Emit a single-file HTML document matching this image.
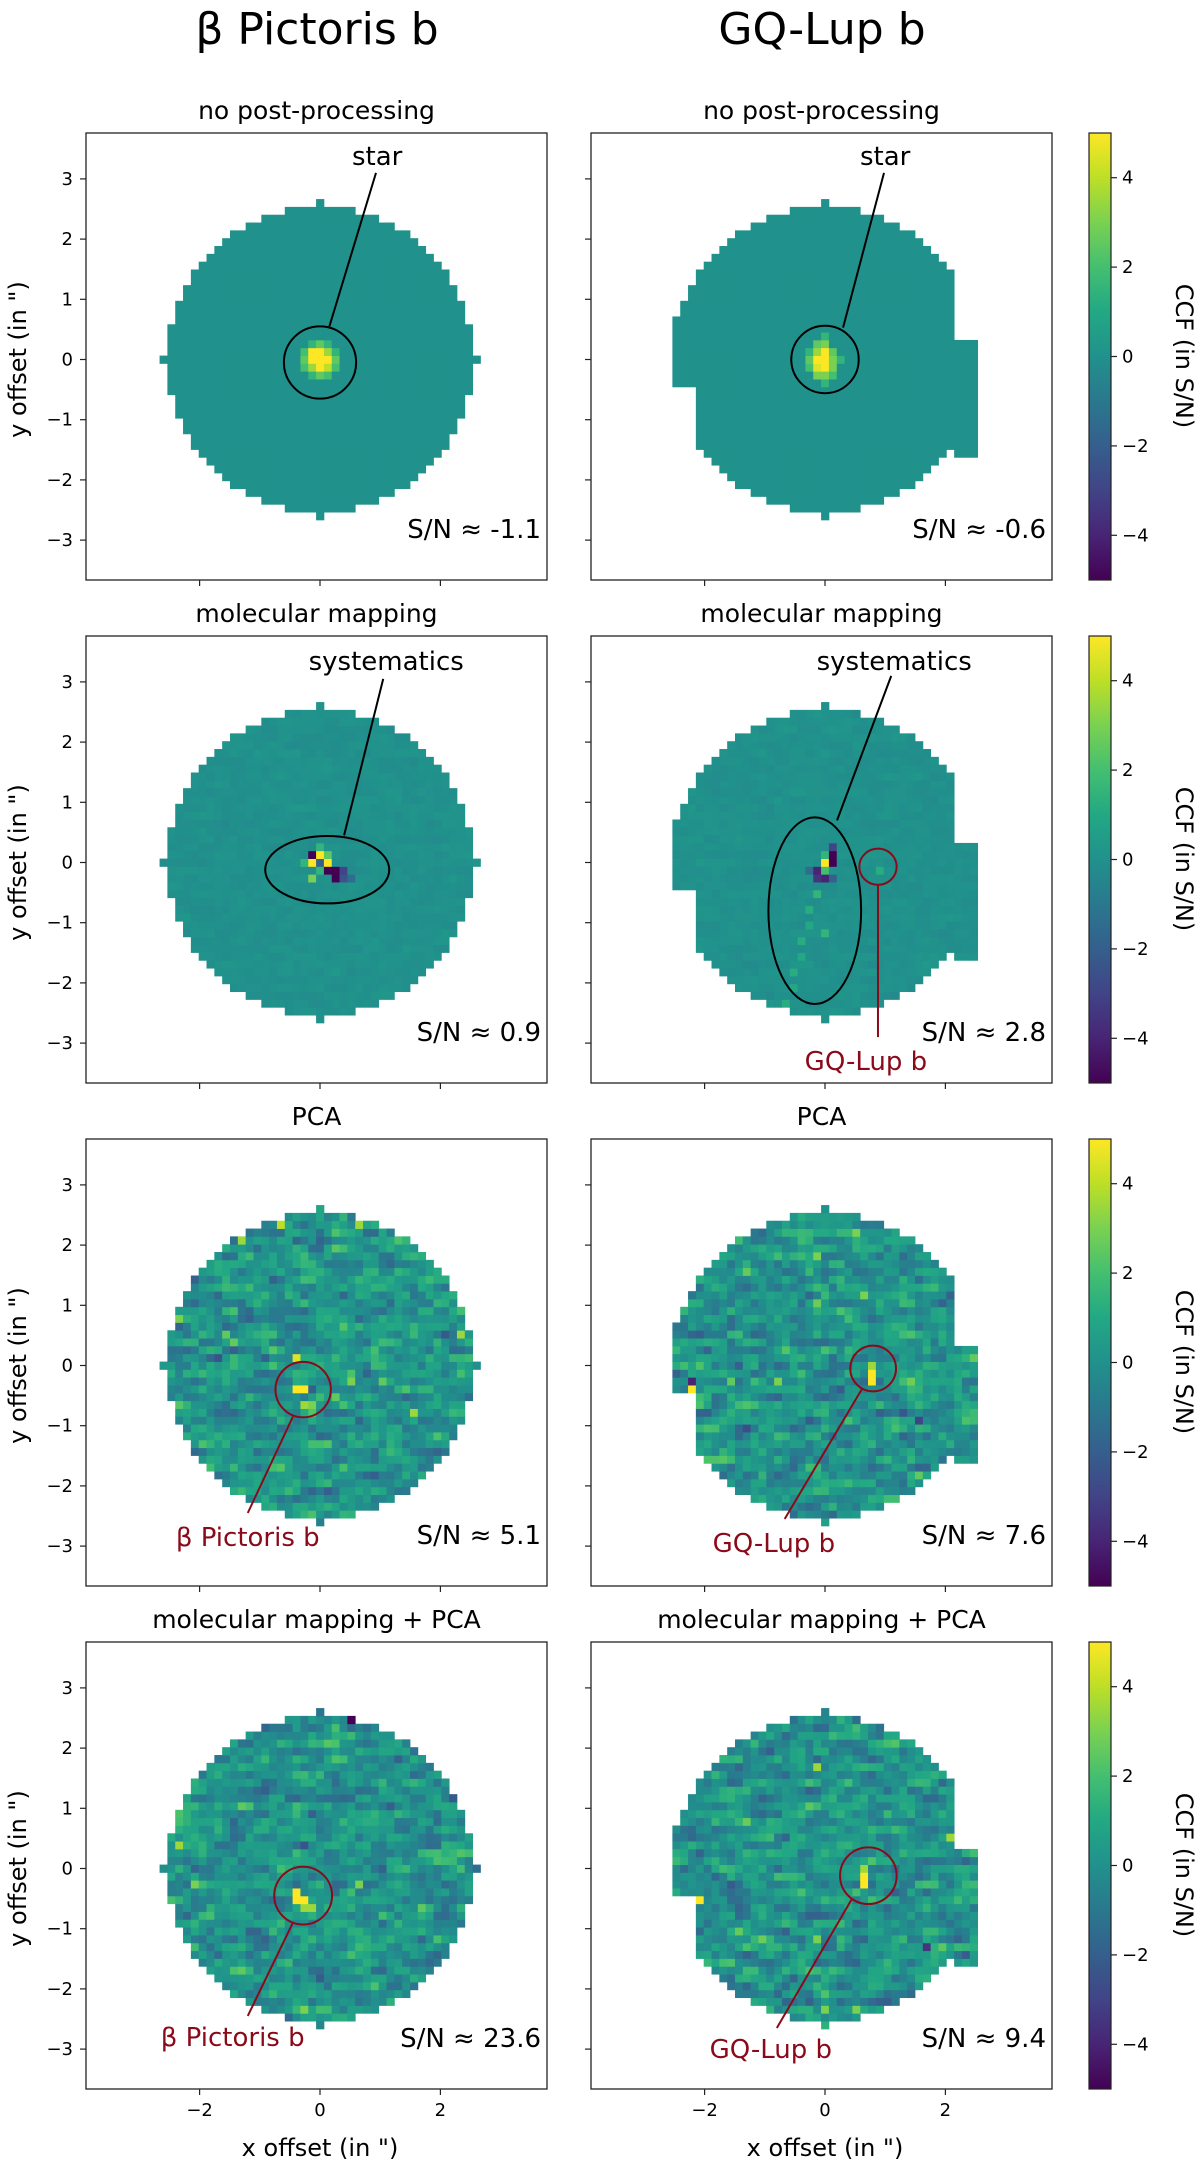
<!DOCTYPE html>
<html><head><meta charset="utf-8">
<style>
html,body{margin:0;padding:0;background:#fff;}
svg{display:block;font-family:"DejaVu Sans","Liberation Sans",sans-serif;}
</style></head>
<body>
<svg id="fig" width="1200" height="2164" viewBox="0 0 1200 2164" xmlns="http://www.w3.org/2000/svg">
<defs>
<linearGradient id="vir" x1="0" y1="1" x2="0" y2="0">
<stop offset="0" stop-color="#440154"/><stop offset="0.1" stop-color="#482475"/><stop offset="0.2" stop-color="#414487"/><stop offset="0.3" stop-color="#355f8d"/><stop offset="0.4" stop-color="#2a788e"/><stop offset="0.5" stop-color="#21918c"/><stop offset="0.6" stop-color="#22a884"/><stop offset="0.7" stop-color="#44bf70"/><stop offset="0.8" stop-color="#7ad151"/><stop offset="0.9" stop-color="#bddf26"/><stop offset="1" stop-color="#fde725"/>
</linearGradient>
</defs>
<text x="317" y="44" font-size="44" text-anchor="middle">β Pictoris b</text>
<text x="822" y="44" font-size="44" text-anchor="middle">GQ-Lup b</text>
<g id="root"></g>
</svg>
<script>
const rowTitles=["no post-processing","molecular mapping","PCA","molecular mapping + PCA"];
const snLabels=["S/N ≈ -1.1","S/N ≈ -0.6","S/N ≈ 0.9","S/N ≈ 2.8","S/N ≈ 5.1","S/N ≈ 7.6","S/N ≈ 23.6","S/N ≈ 9.4"];
const xTicks=[-2,0,2];
const yTicks=[-3,-2,-1,0,1,2,3];
const cbTicks=[-4,-2,0,2,4];
const cbMin=-5, cbMax=5;
const starBeta=[[-1,1,5],[0,1,5],[1,1,3.5],[-1,0,5],[0,0,5],[1,0,5],[-1,-1,3.5],[0,-1,5],[1,-1,4],[-2,1,2],[-2,0,2.5],[-2,-1,2],[2,0,2.5],[2,1,1.5],[2,-1,2],[0,2,2.5],[-1,2,1.5],[1,2,1.5],[0,-2,2.5],[-1,-2,1.5],[1,-2,2]];
const starGQ=[[0,1,5],[-1,1,3.5],[0,0,5],[-1,0,5],[0,-1,5],[-1,-1,4.5],[1,0,3],[1,1,2.5],[1,-1,3],[-2,0,2.5],[-2,1,1.5],[-2,-1,2],[0,2,3],[-1,2,2.5],[0,-2,3],[-1,-2,3],[1,-2,2],[2,0,1.5],[0,3,1.5],[0,-3,1.5]];
const sysBeta=[[-1,1,-5],[0,1,5],[1,1,2.5],[-1,0,5],[0,0,-2],[1,0,5],[1,-1,-5],[2,-1,-5],[2,-2,-5],[3,-1,-3],[3,-2,-2.5],[-1,-2,3],[0,-1,1.5],[-2,0,1.5],[4,-2,-1.5],[0,2,1.5]];
const sysGQ=[[1,1,-5],[1,2,-3],[0,1,1.5],[0,0,5],[1,0,-5],[0,-1,2],[-1,-1,-4],[0,-2,-4],[-1,-2,-3.5],[-2,-1,-1.5],[1,-2,-2],[-1,-4,1.5],[-2,-6,1.2],[-2,-8,1],[-3,-10,1.2],[-3,-12,1],[-4,-14,1.2],[-4,-16,1],[-5,-18,1.2],[0,-9,1.5],[7,-1,1.2]];
const pcaBeta=[[-3,-3,5],[-2,-3,5],[-3,1,4.5],[-2,-5,3.5],[-1,-5,3],[2,-4,2.5],[4,-2,3],[8,-2,2.5],[12,-6,3.5],[-10,16,3.5],[-5,18,4],[5,18,3.5],[-18,6,3],[18,4,3.5],[-12,4,2.5]];
const pcaGQ=[[6,-1,5],[6,0,3.5],[6,-2,5],[-17,-3,5],[-17,-2,-4],[-12,-2,2.5],[12,-7,-3],[-1,14,3],[4,17,3],[5,9,3],[-6,-2,3]];
const mmpBeta=[[-3,-3,5],[-3,-4,5],[-2,-4,5],[-2,-5,3.5],[-1,-5,3.5],[-5,19,5],[4,19,-5],[-18,3,3.5],[-16,-2,3],[5,-2,3],[13,-5,2.5],[-2,-18,3]];
const mmpGQ=[[5,-1,5],[5,-2,5],[5,0,3.5],[-16,-4,5],[-1,13,3.5],[16,4,3.5],[-1,-9,3],[13,-10,-3.5],[0,-18,3],[4,-18,3]];
const noiseAmp=[0,0,0.12,0.12,1.05,1.05,1.0,1.0];
</script>
<script>
const NS="http://www.w3.org/2000/svg";
const root=document.getElementById('root');
const SC=60.2, CELL=0.13;
const rowTop=[133,636,1139,1642];
const PW=461;
const panelLeft=[86,591];
const XOFF=234, YOFF=226.5;
const stops=[[68,1,84],[72,36,117],[65,68,135],[53,95,141],[42,120,142],[33,145,140],[34,168,132],[68,191,112],[122,209,81],[189,223,38],[253,231,37]];
function vir(v){let t=(v-cbMin)/(cbMax-cbMin);t=Math.max(0,Math.min(1,t));const f=t*10,k=Math.min(9,Math.floor(f)),r=f-k;
 const a=stops[k],b=stops[k+1];return `rgb(${Math.round(a[0]+(b[0]-a[0])*r)},${Math.round(a[1]+(b[1]-a[1])*r)},${Math.round(a[2]+(b[2]-a[2])*r)})`;}
function h(a,b,s){const x=Math.sin(a*127.1+b*311.7+s*74.7)*43758.5453;return x-Math.floor(x);}
function nz(i,j,s){return (h(i,j,s)+h(j,i,s+7)+h(i+j,i-j,s+3)-1.5)*2;}
function el(tag,attrs,parent){const e=document.createElementNS(NS,tag);for(const k in attrs)e.setAttribute(k,attrs[k]);(parent||root).appendChild(e);return e;}
function maskBeta(i,j){return i*i+j*j<=19.5*19.5||(j===0&&Math.abs(i)<=20)||(i===0&&Math.abs(j)<=20);}
function maskGQ(i,j){
 let m=i*i+j*j<=19.5*19.5;
 if(i<=-17&&j<=-4&&j>=-13)m=false;
 if(i>=17&&(j>=3||j<=-13))m=false;
 if(i>=17&&i<=19&&j<=2&&j>=-12)m=true;
 if(i<=-17&&i>=-19&&j>=-3&&j<=5)m=true;
 if(i===0&&Math.abs(j)<=20)m=true;
 return m;}
const specials=[starBeta,starGQ,sysBeta,sysGQ,pcaBeta,pcaGQ,mmpBeta,mmpGQ];

for(let r=0;r<4;r++){
 const top=rowTop[r], y0=top+YOFF, bottom=top+447;
 for(let c=0;c<2;c++){
  const idx=r*2+c, L=panelLeft[c], x0=L+XOFF;
  const X=v=>x0+v*SC, Y=v=>y0-v*SC;
  const g=el('g',{});
  
  
  const tt=el('text',{x:L+PW/2,y:top-14,'font-size':25,'text-anchor':'middle'},g);
  tt.textContent=rowTitles[r];
  
  
  const sp={};specials[idx].forEach(s=>sp[s[0]+','+s[1]]=s[2]);
  const mask=c?maskGQ:maskBeta;
  const hm=el('g',{},g);
  
  
  const cs=CELL*SC;
  for(let i=-21;i<=21;i++)for(let j=-21;j<=21;j++){
   if(!mask(i,j))continue;
   let v;
   if(sp[i+','+j]!==undefined)v=sp[i+','+j];
   else{const n=0.7*nz(i,j,idx)+0.45*nz(i-1,j,idx);v=n*noiseAmp[idx]+(r>=2?0.15:0);}
   const rc=el('rect',{x:(X(i*CELL)-cs/2).toFixed(2),y:(Y(j*CELL)-cs/2).toFixed(2),width:(cs+0.4).toFixed(2),height:(cs+0.4).toFixed(2),fill:vir(v)},hm);
   
   
  }
  const fr=el('rect',{x:L,y:top,width:PW,height:447,fill:'none',stroke:'#222','stroke-width':1.3},g);
  
  
  xTicks.forEach(t=>{
   const tk=el('line',{x1:X(t),x2:X(t),y1:bottom,y2:bottom+6,stroke:'#222','stroke-width':1.2},g);
   
   
   if(r===3){const tl=el('text',{x:X(t),y:bottom+27,'font-size':18,'text-anchor':'middle'},g);tl.textContent=(t<0?'\u2212'+(-t):t);
    
    }
  });
  yTicks.forEach(t=>{
   const tk=el('line',{x1:L-6,x2:L,y1:Y(t),y2:Y(t),stroke:'#222','stroke-width':1.2},g);
   
   
   if(c===0){const tl=el('text',{x:L-13,y:Y(t)+6,'font-size':18,'text-anchor':'end'},g);tl.textContent=(t<0?'\u2212'+(-t):t);
    
    }
  });
  const sn=el('text',{x:L+PW-6,y:top+405,'font-size':26,'text-anchor':'end'},g);
  sn.textContent=snLabels[idx];
  
  
  function ann(cx,cy,rx,ry,lx1,ly1,lx2,ly2,txt,tx,ty,col,nm){
   const e=el('ellipse',{cx:X(cx),cy:Y(cy),rx:rx*SC,ry:ry*SC,fill:'none',stroke:col,'stroke-width':2},g);
   
   
   const l=el('line',{x1:X(lx1),y1:Y(ly1),x2:X(lx2),y2:Y(ly2),stroke:col,'stroke-width':2},g);
   
   
   const t=el('text',{x:X(tx),y:Y(ty)+9,'font-size':26,'text-anchor':'middle',fill:col},g);
   t.textContent=txt;
   
   
  }
  const RED='#8b0a1a';
  if(r===0){ if(c===0) ann(0,-0.05,0.6,0.6,0.93,3.1,0.15,0.53,'star',0.95,3.38,'#000','star');
             else ann(0,0,0.56,0.56,0.98,3.1,0.3,0.53,'star',1.0,3.38,'#000','star'); }
  if(r===1){ if(c===0) ann(0.12,-0.12,1.03,0.56,1.05,3.05,0.4,0.45,'systematics',1.1,3.35,'#000','systematics');
             else { ann(-0.17,-0.8,0.77,1.55,1.1,3.1,0.2,0.7,'systematics',1.15,3.35,'#000','systematics');
               ann(0.88,-0.07,0.31,0.3,0.88,-0.37,0.88,-2.9,'GQ-Lup b',0.68,-3.3,RED,'planet'); } }
  if(r===2){ if(c===0) ann(-0.28,-0.4,0.46,0.46,-0.45,-0.85,-1.2,-2.45,'β Pictoris b',-1.2,-2.85,RED,'planet');
             else ann(0.8,-0.05,0.38,0.38,0.62,-0.38,-0.67,-2.55,'GQ-Lup b',-0.85,-2.95,RED,'planet'); }
  if(r===3){ if(c===0) ann(-0.28,-0.45,0.48,0.48,-0.45,-0.9,-1.2,-2.45,'β Pictoris b',-1.45,-2.8,RED,'planet');
             else ann(0.72,-0.12,0.47,0.47,0.45,-0.5,-0.8,-2.65,'GQ-Lup b',-0.9,-3.0,RED,'planet'); }
 }
 const yl=el('text',{transform:`translate(26,${y0}) rotate(-90)`,'font-size':24,'text-anchor':'middle'});
 yl.textContent='y offset (in ")';
 
 
 const cbL=1089,cbW=22;
 const CY=v=>top+447*(cbMax-v)/(cbMax-cbMin);
 const cb=el('rect',{x:cbL,y:top,width:cbW,height:447,fill:'url(#vir)',stroke:'#222','stroke-width':1.2});
 
 
 cbTicks.forEach(t=>{
  const tk=el('line',{x1:cbL+cbW,x2:cbL+cbW+6,y1:CY(t),y2:CY(t),stroke:'#222','stroke-width':1.2});
  
  
  const tl=el('text',{x:cbL+cbW+11,y:CY(t)+6,'font-size':18});
  tl.textContent=(t<0?'\u2212'+(-t):t);
  
  
 });
 const cl=el('text',{transform:`translate(1176,${top+223}) rotate(90)`,'font-size':24,'text-anchor':'middle'});
 cl.textContent='CCF (in S/N)';
 
 
}
[0,1].forEach(c=>{
 const xl=el('text',{x:panelLeft[c]+XOFF,y:2156,'font-size':24,'text-anchor':'middle'});
 xl.textContent='x offset (in ")';
 
 
});
</script>
</body></html>
